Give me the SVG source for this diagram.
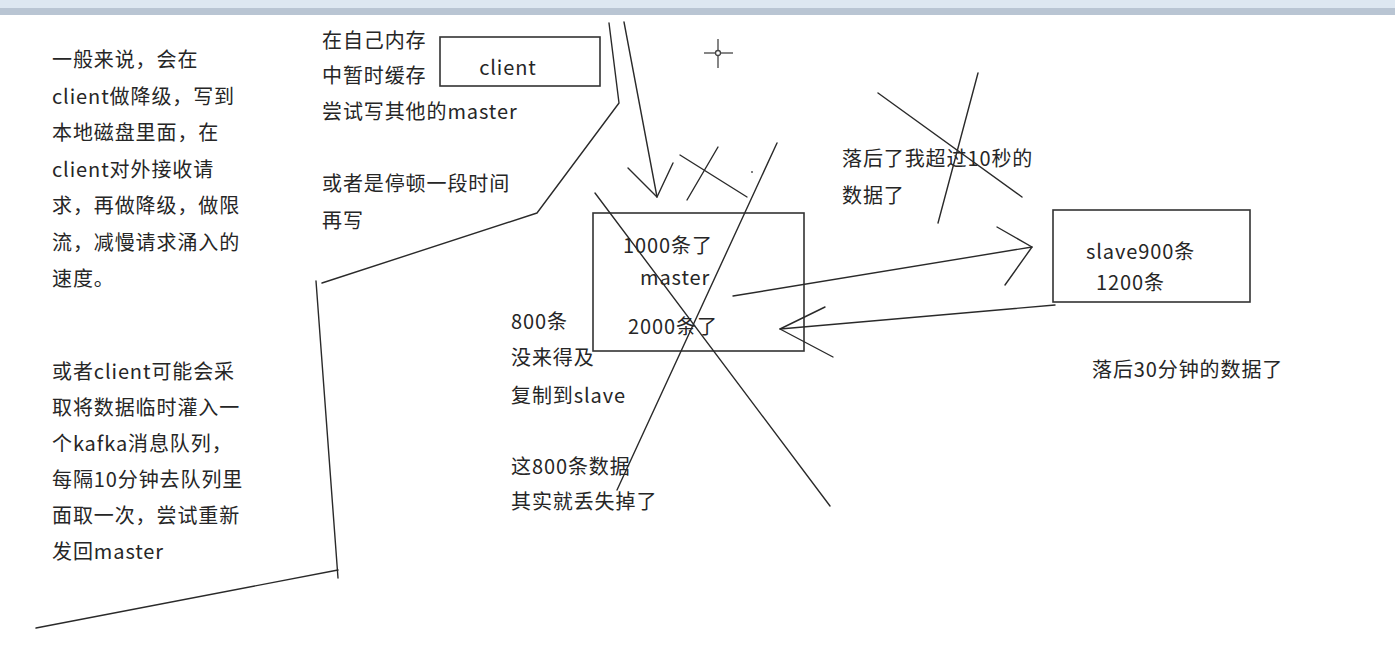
<svg xmlns="http://www.w3.org/2000/svg" width="1395" height="651" viewBox="0 0 1395 651">
<style>
.t{font-family:"Noto Sans CJK SC","Noto Sans",sans-serif;font-size:20px;letter-spacing:0.9px;fill:#262626}
.box{fill:none;stroke:#333;stroke-width:1.6}
.ln{fill:none;stroke:#2a2a2a;stroke-width:1.4;stroke-linecap:round;stroke-linejoin:round}
</style>
<rect x="0" y="0" width="1395" height="651" fill="#fff"/>
<rect x="0" y="0" width="1395" height="8" fill="#dde7f1"/>
<rect x="0" y="8" width="1395" height="7" fill="#b9c5d3"/>
<g id="note-left">
<text class="t" x="52" y="67">一般来说，会在</text>
<text class="t" x="52" y="104">client做降级，写到</text>
<text class="t" x="52" y="140">本地磁盘里面，在</text>
<text class="t" x="52" y="177">client对外接收请</text>
<text class="t" x="52" y="213">求，再做降级，做限</text>
<text class="t" x="52" y="250">流，减慢请求涌入的</text>
<text class="t" x="52" y="286">速度。</text>
<text class="t" x="52" y="379">或者client可能会采</text>
<text class="t" x="52" y="415">取将数据临时灌入一</text>
<text class="t" x="52" y="451">个kafka消息队列，</text>
<text class="t" x="52" y="487">每隔10分钟去队列里</text>
<text class="t" x="52" y="523">面取一次，尝试重新</text>
<text class="t" x="52" y="559">发回master</text>
</g>
<g id="note-client">
<text class="t" x="322" y="48">在自己内存</text>
<text class="t" x="322" y="83">中暂时缓存</text>
<text class="t" x="322" y="119">尝试写其他的master</text>
<text class="t" x="322" y="191">或者是停顿一段时间</text>
<text class="t" x="322" y="228">再写</text>
</g>
<g id="client">
<rect class="box" x="440" y="37" width="160" height="49"/>
<text class="t" x="508" y="75" text-anchor="middle">client</text>
</g>
<g id="master">
<rect class="box" x="593" y="213" width="211" height="138"/>
<text class="t" x="623" y="253">1000条了</text>
<text class="t" x="640" y="285">master</text>
<text class="t" x="628" y="334">2000条了</text>
</g>
<g id="slave">
<rect class="box" x="1053" y="210" width="197" height="92"/>
<text class="t" x="1086" y="259">slave900条</text>
<text class="t" x="1096" y="290">1200条</text>
</g>
<g id="note-lag">
<text class="t" x="842" y="166">落后了我超过10秒的</text>
<text class="t" x="842" y="203">数据了</text>
<text class="t" x="1092" y="377">落后30分钟的数据了</text>
</g>
<g id="note-lost">
<text class="t" x="511" y="329">800条</text>
<text class="t" x="511" y="365">没来得及</text>
<text class="t" x="511" y="403">复制到slave</text>
<text class="t" x="511" y="474">这800条数据</text>
<text class="t" x="511" y="509">其实就丢失掉了</text>
</g>
<g id="connectors">
<polyline class="ln" points="609,23 619,103 537,213 322,283"/>
<line class="ln" x1="316" y1="281" x2="338" y2="578"/>
<line class="ln" x1="36" y1="628" x2="338" y2="570"/>
<line class="ln" x1="624" y1="22" x2="657" y2="197"/>
<polyline class="ln" points="628,168 657,197 673,163"/>
<line class="ln" x1="680" y1="155" x2="747" y2="197"/>
<line class="ln" x1="718" y1="147" x2="687" y2="200"/>
<line class="ln" x1="777" y1="143" x2="617" y2="490"/>
<line class="ln" x1="595" y1="193" x2="830" y2="506"/>
<circle cx="752" cy="172" r="1" fill="#555"/>
<line class="ln" x1="733" y1="296" x2="1032" y2="247"/>
<polyline class="ln" points="997,227 1032,247 1005,285"/>
<line class="ln" x1="1055" y1="305" x2="780" y2="329"/>
<polyline class="ln" points="825,307 780,329 833,357"/>
<line class="ln" x1="878" y1="93" x2="1022" y2="197"/>
<line class="ln" x1="978" y1="73" x2="938" y2="223"/>
</g>
<g id="cursor" stroke="#444" stroke-width="1.3" fill="none">
<line x1="704" y1="53" x2="733" y2="53"/>
<line x1="718" y1="39" x2="718" y2="68"/>
<circle cx="718" cy="53" r="2.5" fill="#fff"/>
</g>
</svg>
